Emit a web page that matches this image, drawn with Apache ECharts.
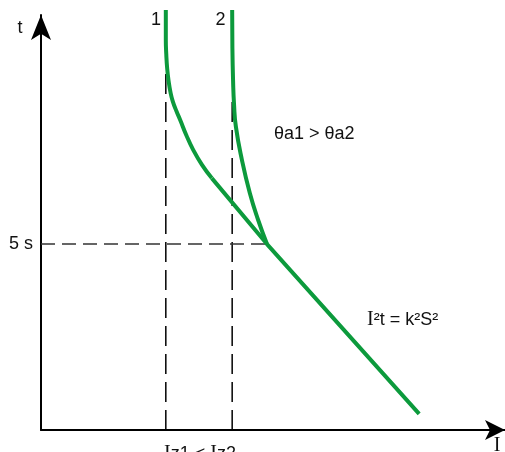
<!DOCTYPE html>
<html>
<head>
<meta charset="utf-8">
<script src="https://cdn.jsdelivr.net/npm/echarts@6/dist/echarts.min.js"></script>
<style>html,body{margin:0;padding:0;background:#fff;}#c{width:505px;height:452px;}</style>
</head>
<body>
<div id="c"></div>
<script>
// Data (abstract units: I on x 0..100, t on y 0..100)
const curve1 = [[26.9,101.2],[26.9,94.0],[27.0,90.5],[27.2,87.0],[27.5,84.1],[27.9,81.4],[28.4,79.2],[29.2,76.8],[30.0,74.7],[31.3,71.1],[32.8,67.5],[34.7,63.9],[36.8,60.7]];
const curve2 = [[41.2,101.2],[41.25,92.0],[41.4,84.0],[41.6,78.5],[42.0,73.1],[43.3,65.1],[45.0,57.1],[46.8,50.6],[48.7,44.8]];
const adiabatic = [[36.8,60.7],[48.7,44.8],[81.5,3.9]];
const iz1 = 26.9, iz1Top = 86.3;
const iz2 = 41.2, iz2Top = 79.5;
const t5 = 44.8, t5Right = 48.7;
const yTickLabels = {"44.8": "5 s"};
const curveNames = ["1", "2"];

const green = '#0c9a3c';
const ink = '#111';
const vdash = {color:'#000', width:1.5, type:[20,8]};
const hdash = {color:'#333', width:1.5, type:[14,7]};
const sans = 'Liberation Sans, Arial, Helvetica, sans-serif';
const serif = 'Liberation Serif, Times New Roman, serif';

const chart = echarts.init(document.getElementById('c'), null, {renderer:'canvas'});
chart.setOption({
  animation:false,
  grid:{left:41, right:0, top:15, bottom:22, containLabel:false},
  xAxis:{type:'value', min:0, max:100, splitLine:{show:false}, axisTick:{show:false}, axisLabel:{show:false},
    axisLine:{lineStyle:{color:'#000', width:2}, symbol:['none','arrow'], symbolSize:[15,20], symbolOffset:[0,0]}},
  yAxis:{type:'value', min:0, max:100, interval:t5, splitLine:{show:false}, axisTick:{show:false},
    axisLabel:{margin:8, color:ink, fontSize:18, fontFamily:sans,
      formatter:v=>{ const k=(Math.round(v*10)/10).toString(); return yTickLabels[k]||''; }},
    axisLine:{lineStyle:{color:'#000', width:2}, symbol:['none','arrow'], symbolSize:[15,25], symbolOffset:[0,0]}},
  series:[
    {type:'line', data:[[iz1,0],[iz1,iz1Top]], symbol:'none', lineStyle:vdash, silent:true},
    {type:'line', data:[[iz2,0],[iz2,iz2Top]], symbol:'none', lineStyle:vdash, silent:true},
    {type:'line', data:[[0,t5],[t5Right,t5]], symbol:'none', lineStyle:hdash, silent:true},
    {type:'line', name:curveNames[0], data:curve1, smooth:0.5, symbol:'none', clip:false, lineStyle:{color:green, width:4}},
    {type:'line', name:curveNames[1], data:curve2, smooth:0.5, symbol:'none', clip:false, lineStyle:{color:green, width:4}},
    {type:'line', data:adiabatic, symbol:'none', clip:false, lineStyle:{color:green, width:4, join:'round'}}
  ],
  graphic:[
    {type:'text', x:20, y:28, style:{text:'t', font:'18px '+sans, fill:ink, align:'center', verticalAlign:'middle'}},
    {type:'text', x:156, y:20, style:{text:curveNames[0], font:'18px '+sans, fill:ink, align:'center', verticalAlign:'middle'}},
    {type:'text', x:220.5, y:20, style:{text:curveNames[1], font:'18px '+sans, fill:ink, align:'center', verticalAlign:'middle'}},
    {type:'text', x:274, y:134, style:{text:'θa1 > θa2', font:'18px '+sans, fill:ink, align:'left', verticalAlign:'middle'}},
    {type:'text', x:367, y:320, style:{text:'{s|I}{n|²t = k²S²}', align:'left', verticalAlign:'middle', fill:ink,
      rich:{s:{fontFamily:serif, fontSize:20, fill:ink}, n:{fontFamily:sans, fontSize:18, fill:ink}}}},
    {type:'text', x:200, y:444, style:{text:'{s|I}{n|z1 < }{s|I}{n|z2}', align:'center', verticalAlign:'top', fill:ink,
      rich:{s:{fontFamily:serif, fontSize:20, fill:ink}, n:{fontFamily:sans, fontSize:18, fill:ink}}}},
    {type:'text', x:497, y:436, style:{text:'I', font:'20px '+serif, fill:ink, align:'center', verticalAlign:'top'}}
  ]
});
</script>
</body>
</html>
